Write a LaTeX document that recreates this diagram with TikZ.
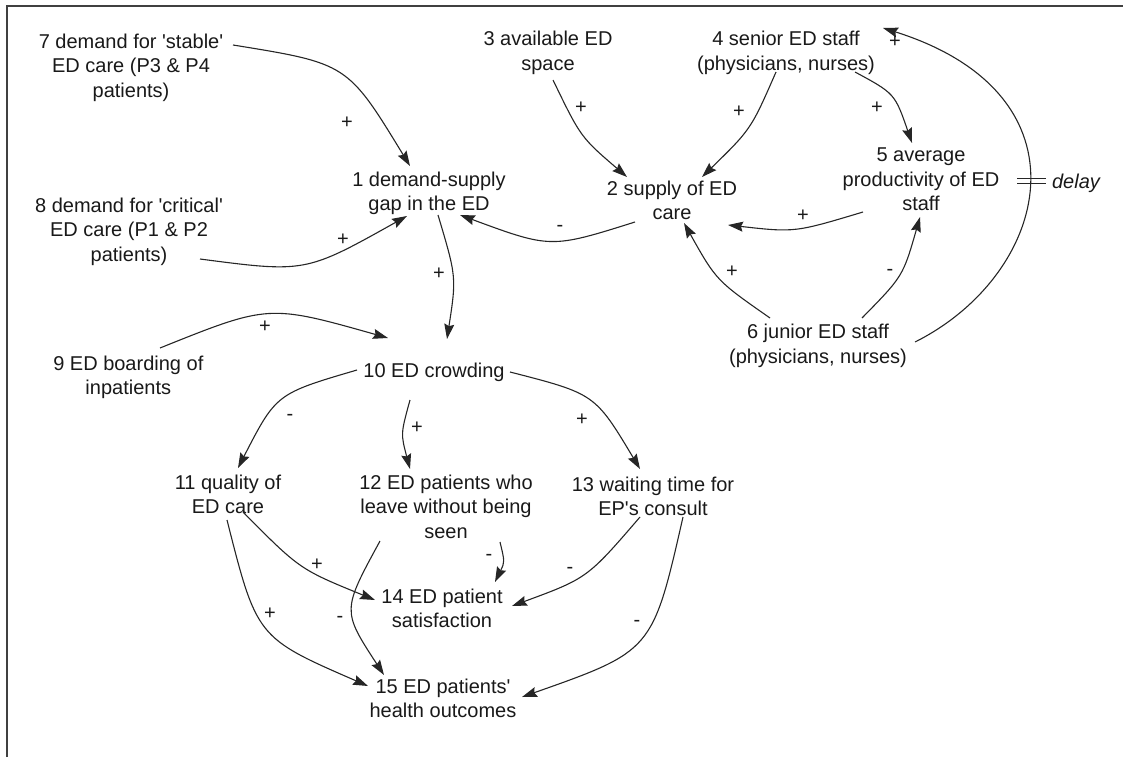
\documentclass[tikz,border=0pt]{standalone}
\usepackage{fontspec}
\setmainfont{Liberation Sans}[Ligatures=TeXOff]
\usetikzlibrary{arrows.meta}
\begin{document}
\begin{tikzpicture}[x=1pt,y=-1pt,
  var/.style={align=center,inner sep=0pt,font=\fontsize{20}{24.5}\selectfont,text=black!90},
  pol/.style={inner sep=0pt,font=\fontsize{20}{24.5}\selectfont,text=black!90},
  link/.style={line width=1.1pt,draw=black!85,-{Stealth[length=15pt,width=10pt,inset=2pt]}},
  frameline/.style={line width=1.5pt,draw=black!75},
  delaymark/.style={line width=1.1pt,draw=black!85},
]
\useasboundingbox (0,0) rectangle (1123,757);
\draw[frameline] (7,757) -- (7,6) -- (1123,6);

% variables
\node[var] (n7)  at (131,67.6)  {7 demand for 'stable'\\ED care (P3 \& P4\\patients)};
\node[var] (n8)  at (129,231.6) {8 demand for 'critical'\\ED care (P1 \& P2\\patients)};
\node[var] (n9)  at (128.3,377.3) {9 ED boarding of\\inpatients};
\node[var] (n1)  at (429,193.3) {1 demand-supply\\gap in the ED};
\node[var] (n2)  at (672,200.3) {2 supply of ED\\care};
\node[var] (n3)  at (548,52.9)  {3 available ED\\space};
\node[var] (n4)  at (786,52.9)  {4 senior ED staff\\(physicians, nurses)};
\node[var] (n5)  at (921,179.5) {5 average\\productivity of ED\\staff};
\node[var] (n6)  at (818,345.9) {6 junior ED staff\\(physicians, nurses)};
\node[var] (n10) at (434,372.1) {10 ED crowding};
\node[var] (n11) at (228,494.3) {11 quality of\\ED care};
\node[var] (n12) at (446,506.5) {12 ED patients who\\leave without being\\seen};
\node[var] (n13) at (653,496.4) {13 waiting time for\\EP's consult};
\node[var] (n14) at (442,608.3) {14 ED patient\\satisfaction};
\node[var] (n15) at (443,698.3) {15 ED patients'\\health outcomes};
\node[pol,font=\fontsize{20}{24.5}\selectfont\itshape] (dl) at (1076,183) {delay};

% links
\draw[link] ([shift={(102,-22.6)}]n7.center) .. controls (347.5,63.5) .. ([shift={(-19,-27.3)}]n1.center);
\draw[link] ([shift={(71,27.4)}]n8.center) .. controls (305.5,272.8) .. ([shift={(-22,22.7)}]n1.center);
\draw[link] ([shift={(9,21.7)}]n1.center) .. controls (456.5,277) .. ([shift={(13,-33.1)}]n10.center);
\draw[link] ([shift={(-37,21.7)}]n2.center) .. controls (550.8,248.5) .. ([shift={(31,21.7)}]n1.center);
\draw[link] ([shift={(5,27.1)}]n3.center) .. controls (580.7,137.2) .. ([shift={(-45,-23.3)}]n2.center);
\draw[link] ([shift={(-10,19.1)}]n4.center) .. controls (751,129.2) .. ([shift={(30,-23.3)}]n2.center);
\draw[link] ([shift={(69,19.1)}]n4.center) .. controls (894.8,93.5) .. ([shift={(-9,-36.5)}]n5.center);
\draw[link] ([shift={(-58,32.5)}]n5.center) .. controls (794.8,232.5) .. ([shift={(56,24.7)}]n2.center);
\draw[link] ([shift={(-48,-27.9)}]n6.center) .. controls (716.3,280.5) .. ([shift={(12,22.7)}]n2.center);
\draw[link] ([shift={(44,-27.9)}]n6.center) .. controls (903,276.2) .. ([shift={(-1,37.5)}]n5.center);
\draw[link] ([shift={(97,-3.9)}]n6.center) .. controls (1049,275) and (1096,95) .. ([shift={(97,-24.9)}]n4.center);
\draw[link] ([shift={(31.7,-29.3)}]n9.center) .. controls (268.7,304.3) .. ([shift={(-46,-34.1)}]n10.center);
\draw[link] ([shift={(-77,-2.1)}]n10.center) .. controls (276.2,393.7) .. ([shift={(10,-26.3)}]n11.center);
\draw[link] ([shift={(-24,27.9)}]n10.center) .. controls (400.7,433.8) .. ([shift={(-36,-37.5)}]n12.center);
\draw[link] ([shift={(76,-0.1)}]n10.center) .. controls (595,393.8) .. ([shift={(-13,-27.4)}]n13.center);
\draw[link] ([shift={(15,17.7)}]n11.center) .. controls (299.7,569.3) .. ([shift={(-67,-8.3)}]n14.center);
\draw[link] ([shift={(54,35.5)}]n12.center) .. controls (504.8,562) .. ([shift={(53,-26.3)}]n14.center);
\draw[link] ([shift={(-13,20.6)}]n13.center) .. controls (587.3,578.2) .. ([shift={(70,-2.3)}]n14.center);
\draw[link] ([shift={(-1,25.7)}]n11.center) .. controls (256.8,637.7) .. ([shift={(-75,-12.3)}]n15.center);
\draw[link] ([shift={(-66,34.5)}]n12.center) .. controls (342,610.7) .. ([shift={(-59,-23.3)}]n15.center);
\draw[link] ([shift={(30,20.6)}]n13.center) .. controls (652.5,651) .. ([shift={(79,-1.3)}]n15.center);

% delay mark
\draw[delaymark] (1017,178.5) -- (1046,178.5);
\draw[delaymark] (1017,183.5) -- (1046,183.5);

% polarities
\node[pol] (p1)  at (347,123) {+};
\node[pol] (p2)  at (343,240) {+};
\node[pol] (p3)  at (439,274) {+};
\node[pol] (p4)  at (560,228) {-};
\node[pol] (p5)  at (581,108) {+};
\node[pol] (p6)  at (739,112) {+};
\node[pol] (p7)  at (877,108) {+};
\node[pol] (p8)  at (803,216) {+};
\node[pol] (p9)  at (732,272) {+};
\node[pol] (p10) at (890,272) {-};
\node[pol] (p11) at (895,42)  {+};
\node[pol] (p12) at (265,327) {+};
\node[pol] (p13) at (290,417) {-};
\node[pol] (p14) at (417,428) {+};
\node[pol] (p15) at (582,420) {+};
\node[pol] (p16) at (317,565) {+};
\node[pol] (p17) at (489,557) {-};
\node[pol] (p18) at (570,570) {-};
\node[pol] (p19) at (270,614) {+};
\node[pol] (p20) at (340,619) {-};
\node[pol] (p21) at (637,623) {-};
\end{tikzpicture}
\end{document}
